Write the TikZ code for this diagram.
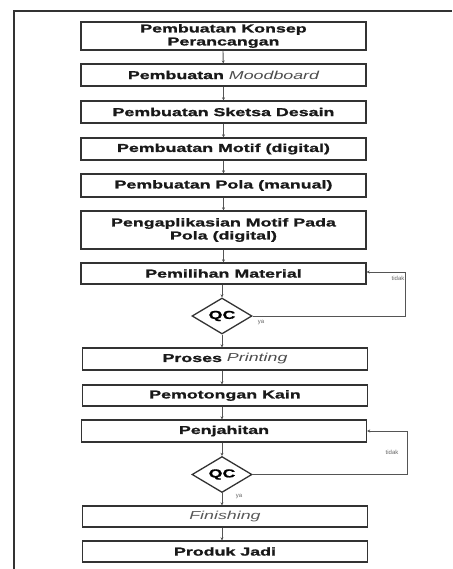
\documentclass[tikz,border=0pt]{standalone}
\usepackage{fontspec}
\setmainfont{Liberation Sans}
\newfontfamily\widefont[FakeStretch=1.55,BoldFeatures={FakeBold=1.2}]{Liberation Sans}
\usetikzlibrary{shapes.geometric,arrows.meta}
\definecolor{edge}{HTML}{333333}
\definecolor{conn}{HTML}{555555}
\begin{document}
\begin{tikzpicture}[x=1pt,y=-1pt,
  box/.style={draw=edge,line width=1.3pt,minimum width=285pt,inner sep=0pt,
     align=center,text=black!90,font=\widefont\fontsize{11.5}{13}\selectfont\bfseries},
  qc/.style={draw=edge,line width=1.3pt,diamond,minimum width=60pt,minimum height=36pt,
     inner sep=0pt,aspect=1.667,font=\widefont\fontsize{11.5}{13}\selectfont\bfseries},
  link/.style={draw=conn,line width=0.9pt,-{Stealth[length=3pt,width=3pt]}},
  small/.style={font=\fontsize{6}{7}\selectfont,text=black!60,inner sep=0pt}]
\useasboundingbox (0,0) rectangle (452,569);
\fill[white] (0,0) rectangle (452,569);
\draw[edge,line width=1.6pt] (14,569) -- (14,11) -- (452,11);
\node[box,minimum height=28pt] (b1) at (223.5,36) {Pembuatan Konsep\\Perancangan};
\node[box,minimum height=22pt] (b2) at (223.5,75) {Pembuatan \textcolor{black!70}{\mdseries\itshape Moodboard}};
\node[box,minimum height=22pt] (b3) at (223.5,112) {Pembuatan Sketsa Desain};
\node[box,minimum height=22pt] (b4) at (223.5,149) {Pembuatan Motif (digital)};
\node[box,minimum height=23pt] (b5) at (223.5,185.5) {Pembuatan Pola (manual)};
\node[box,minimum height=38pt] (b6) at (223.5,230) {Pengaplikasian Motif Pada\\Pola (digital)};
\node[box,minimum height=21pt] (b7) at (223.5,273.5) {Pemilihan Material};
\node[qc] (q1) at (222,316) {QC};
\node[box,minimum height=22pt] (b8) at (225,359) {Proses \textcolor{black!70}{\mdseries\itshape Printing}};
\node[box,minimum height=21pt] (b9) at (225,395.5) {Pemotongan Kain};
\node[box,minimum height=22pt] (b10) at (224,431) {Penjahitan};
\node[qc] (q2) at (222,474.5) {QC};
\node[box,minimum height=21pt] (b11) at (225,516.5) {\textcolor{black!65}{\mdseries\itshape Finishing}};
\node[box,minimum height=21pt] (b12) at (225,551.5) {Produk Jadi};
\coordinate (r1) at (405,316);
\coordinate (r1t) at (405,272);
\coordinate (r2) at (407,474.5);
\coordinate (r2t) at (407,431);
\draw[link] (b1.south -| 223,0) -- (b2);
\draw[link] (b2) -- (b3);
\draw[link] (b3) -- (b4);
\draw[link] (b4) -- (b5);
\draw[link] (b5) -- (b6);
\draw[link] (b6) -- (b7);
\draw[link] (b7.south -| q1) -- (q1);
\draw[link] (q1) -- (b8.north -| q1);
\draw[link] (b8.south -| q1) -- (b9.north -| q1);
\draw[link] (b9.south -| q1) -- (b10.north -| q1);
\draw[link] (b10.south -| q1) -- (q2);
\draw[link] (q2) -- (b11.north -| q2);
\draw[link] (b11.south -| q2) -- (b12.north -| q2);
\draw[link] (q1.east) -- (r1) -- (r1t) -- (r1t -| b7.east);
\draw[link] (q2.east) -- (r2) -- (r2t) -- (b10.east);
\node[small] (t1) at (398,278) {tidak};
\node[small] (y1) at (261,323) {ya};
\node[small] (t2) at (392,452) {tidak};
\node[small] (y2) at (239,497) {ya};
\end{tikzpicture}
\end{document}
